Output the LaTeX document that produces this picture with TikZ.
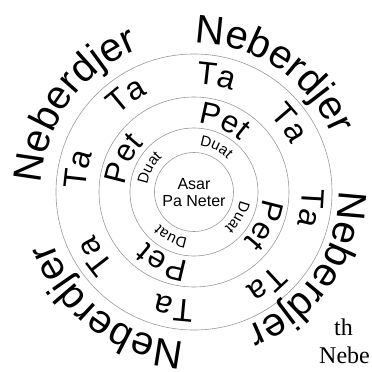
\documentclass[tikz,border=0pt]{standalone}
\usepackage{fontspec}
\setmainfont{Liberation Sans}
\newfontfamily\notefont{Liberation Serif}
\usetikzlibrary{decorations.text}
\definecolor{ringgrey}{HTML}{9A9A9A}
\newcommand\nebfont{\fontsize{40}{48}\selectfont}
\newcommand\tafont{\fontsize{32}{38}\selectfont}
\newcommand\petfont{\fontsize{31}{37}\selectfont}
\newcommand\duatfont{\fontsize{15}{18}\selectfont}

\begin{document}
\begin{tikzpicture}[
  x=1pt,y=1pt,
  ring/.style={draw=ringgrey,line width=0.6pt},
  ringtext/.style={decorate,decoration={text along path,text align=center,text={#1}}}
]
\useasboundingbox (-194,-180) rectangle (178,192);
% rings
\draw[ring] (0,0) circle[radius=39.5];
\draw[ring] (0,0) circle[radius=64];
\draw[ring] (0,0) circle[radius=95];
\draw[ring] (0,0) circle[radius=138];
% centre
\node[align=center,font=\fontsize{16}{17}\selectfont] (core) at (0,-1) {Asar\\Pa Neter};
% text round the rings
\foreach \a in {64,152,243,330}
  \path[ringtext={|\duatfont|Duat}] (\a+40:47) arc[start angle=\a+40,end angle=\a-40,radius=47];
\foreach \a in {67,155,246,335}
  \path[ringtext={|\petfont|Pet}] (\a+45:69) arc[start angle=\a+45,end angle=\a-45,radius=69];
\foreach \a in {79,36,352,308,260,213,169,125}
  \path[ringtext={|\tafont|Ta}] (\a+30:108) arc[start angle=\a+30,end angle=\a-30,radius=108];
\foreach \a/\r in {56/149,144/153,233/150,326/145}
  \path[ringtext={|\nebfont|Neberdjer}] (\a+50:\r) arc[start angle=\a+50,end angle=\a-50,radius=\r];
% cut-off caption
\node[font=\notefont\fontsize{24}{24}\selectfont,anchor=base west,inner sep=0pt] (capth) at (140,-143) {th};
\node[font=\notefont\fontsize{24}{24}\selectfont,anchor=base west,inner sep=0pt] (capneb) at (125,-171) {Nebe};
\end{tikzpicture}
\end{document}
